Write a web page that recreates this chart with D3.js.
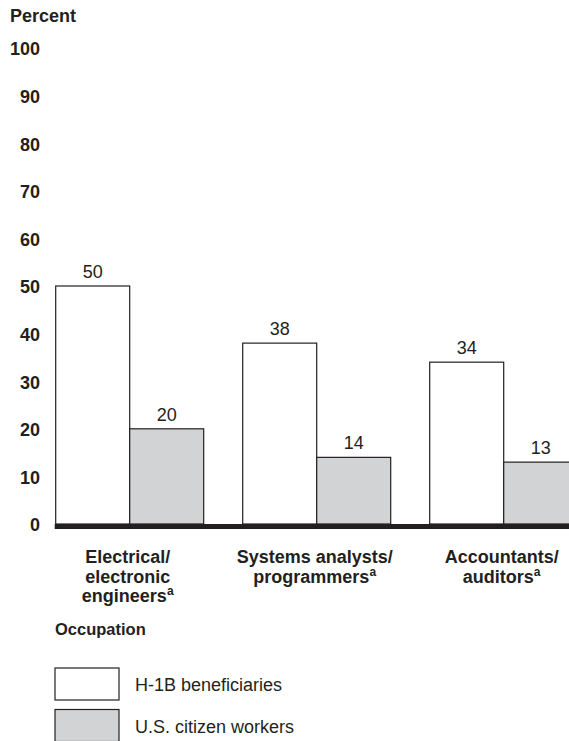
<!DOCTYPE html>
<html>
<head>
<meta charset="utf-8">
<script src="https://cdn.jsdelivr.net/npm/d3@7"></script>
<style>
  body { margin: 0; background: #fff; }
  svg { display: block; font-family: "Liberation Sans", Arial, sans-serif; }
  text { fill: #231f20; }
</style>
</head>
<body>
<div id="chart"></div>
<script>
// data
const occupations = [
    ["Electrical/", "electronic", "engineers"],
    ["Systems analysts/", "programmers"],
    ["Accountants/", "auditors"]
];
const seriesNames = ["H-1B beneficiaries", "U.S. citizen workers"];
const h1bValues = [50, 38, 34];
const citizenValues = [20, 14, 13];
const yTicks = [0, 10, 20, 30, 40, 50, 60, 70, 80, 90, 100];

const width = 569, height = 741;
const ink = "#231f20";
const colors = ["#ffffff", "#d1d3d4"];

let svg = d3.select("#chart").append("svg")
    .attr("width", width)
    .attr("height", height);

let y = d3.scaleLinear().domain([0, 100]).range([524, 48]);

let x0 = d3.scaleBand()
    .domain(d3.range(occupations.length))
    .range([55.7, 577.7])
    .paddingInner(0.2086)
    .paddingOuter(0);

let x1 = d3.scaleBand()
    .domain(seriesNames)
    .range([0, x0.bandwidth()]);

// Y axis
svg.append("text")
    .attr("x", 10)
    .attr("y", 22)
    .style("font-size", "18px")
    .style("font-weight", "bold")
    .text("Percent");

let yAxis = svg.append("g")
    .attr("transform", "translate(40,0)")
    .call(d3.axisLeft(y).tickValues(yTicks).tickSize(0).tickPadding(0));
yAxis.select(".domain").remove();
yAxis.selectAll("text")
    .attr("dy", "0.38em")
    .style("font-size", "18px")
    .style("font-weight", "bold")
    .style("font-family", "Liberation Sans, Arial, sans-serif")
    .attr("fill", ink);

// Bars
let rows = occupations.map((o, i) => [
    { key: seriesNames[0], value: h1bValues[i] },
    { key: seriesNames[1], value: citizenValues[i] }
]);

let groups = svg.selectAll(".group")
  .data(rows)
  .join("g")
    .attr("class", "group")
    .attr("transform", (d, i) => "translate(" + x0(i) + ",0)");

groups.selectAll("rect")
  .data(d => d)
  .join("rect")
    .attr("x", d => x1(d.key))
    .attr("y", d => y(d.value))
    .attr("width", x1.bandwidth())
    .attr("height", d => y(0) - y(d.value))
    .attr("fill", (d, i) => colors[i])
    .attr("stroke", ink)
    .attr("stroke-width", 1.2);

groups.selectAll(".val")
  .data(d => d)
  .join("text")
    .attr("class", "val")
    .attr("x", d => x1(d.key) + x1.bandwidth() / 2)
    .attr("y", d => y(d.value) - 8)
    .attr("text-anchor", "middle")
    .style("font-size", "18px")
    .text(d => d.value);

// Baseline
svg.append("line")
    .attr("x1", x0.range()[0] - 1)
    .attr("x2", width)
    .attr("y1", y(0) + 2.5)
    .attr("y2", y(0) + 2.5)
    .attr("stroke", ink)
    .attr("stroke-width", 5);

// Category labels
let labels = svg.selectAll(".cat")
  .data(occupations)
  .join("text")
    .attr("class", "cat")
    .attr("x", (d, i) => x0(i) + x0.bandwidth() / 2 - 2)
    .attr("y", 563)
    .attr("text-anchor", "middle")
    .style("font-size", "18px")
    .style("font-weight", "bold");

labels.each(function(lines) {
    let t = d3.select(this);
    lines.forEach((line, j) => {
        t.append("tspan")
            .attr("x", t.attr("x"))
            .attr("dy", j == 0 ? 0 : 19.5)
            .text(line);
        if (j == lines.length - 1) {
            t.append("tspan")
                .attr("dy", -7)
                .style("font-size", "12px")
                .text("a");
        }
    });
});

svg.append("text")
    .attr("x", 55)
    .attr("y", 635)
    .style("font-size", "16.5px")
    .style("font-weight", "bold")
    .text("Occupation");

// Legend
let legend = svg.selectAll(".legend")
  .data(seriesNames)
  .join("g")
    .attr("class", "legend")
    .attr("transform", (d, i) => "translate(55," + (668 + i * 41.5) + ")");

legend.append("rect")
    .attr("width", 64)
    .attr("height", 32)
    .attr("fill", (d, i) => colors[i])
    .attr("stroke", ink)
    .attr("stroke-width", 1.2);

legend.append("text")
    .attr("x", 80)
    .attr("y", 23)
    .style("font-size", "18px")
    .text(d => d);
</script>
</body>
</html>
